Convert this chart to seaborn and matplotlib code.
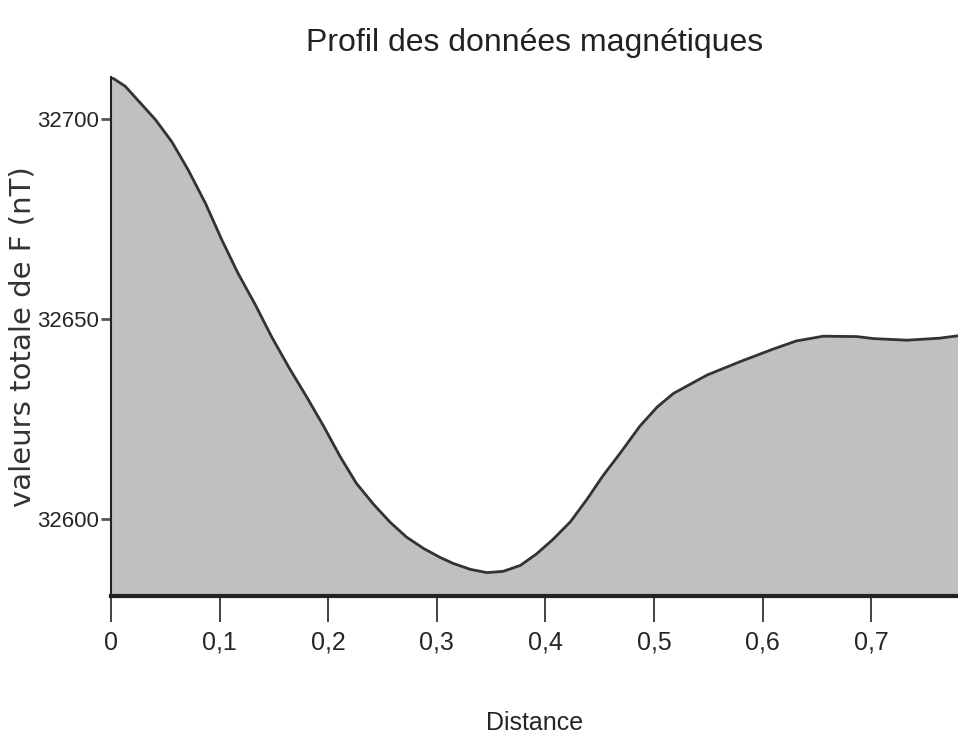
import pandas as pd
import seaborn as sns
import matplotlib
matplotlib.use("Agg")
import matplotlib.pyplot as plt

# Values
distance = [0.000, 0.013, 0.025, 0.041, 0.056, 0.071, 0.087, 0.102, 0.117, 0.133,
            0.148, 0.164, 0.180, 0.196, 0.211, 0.226, 0.242, 0.257, 0.272, 0.288,
            0.303, 0.315, 0.331, 0.346, 0.361, 0.377, 0.392, 0.407, 0.423, 0.438,
            0.453, 0.469, 0.487, 0.503, 0.518, 0.549, 0.579, 0.610, 0.631, 0.656,
            0.687, 0.702, 0.733, 0.763, 0.780]
field_total = [32710.5, 32708.2, 32704.6, 32699.8, 32694.3, 32687.3, 32678.9, 32669.8,
               32661.4, 32653.5, 32645.5, 32637.8, 32630.6, 32623.1, 32615.6, 32608.9,
               32603.6, 32599.2, 32595.5, 32592.6, 32590.4, 32588.9, 32587.4, 32586.6,
               32586.9, 32588.4, 32591.3, 32594.9, 32599.3, 32604.8, 32610.8, 32616.5,
               32623.2, 32628.0, 32631.4, 32636.0, 32639.3, 32642.5, 32644.5, 32645.7,
               32645.6, 32645.1, 32644.7, 32645.2, 32645.8]
x_ticks = [0, 0.1, 0.2, 0.3, 0.4, 0.5, 0.6, 0.7]
x_tick_labels = ["0", "0,1", "0,2", "0,3", "0,4", "0,5", "0,6", "0,7"]
y_ticks = [32600, 32650, 32700]

df = pd.DataFrame({"distance": distance, "F": field_total})

sns.set_theme(style="white")
plt.rcParams["font.family"] = ["Liberation Sans", "DejaVu Sans"]

fig = plt.figure(figsize=(9.58, 7.51), dpi=100)
ax = fig.add_axes([0.1159, 0.2064, 0.8841, 0.6911])

y_min = 32580.75
ax.fill_between(df["distance"], df["F"], y_min, color="#c0c0c0", linewidth=0)
sns.lineplot(data=df, x="distance", y="F", ax=ax, color="#333333", linewidth=2)

ax.set_xlim(0, 0.78)
ax.set_ylim(y_min, 32710.5)
ax.set_xticks(x_ticks)
ax.set_xticklabels(x_tick_labels, fontsize=18)
ax.set_yticks(y_ticks)
ax.set_yticklabels([str(v) for v in y_ticks], fontsize=16)

ax.tick_params(axis="x", direction="out", length=19, width=1.2, color="#222222",
               bottom=True, pad=6)
ax.tick_params(axis="y", direction="out", length=7, width=2, color="#555555",
               left=True, pad=2)

for side in ["top", "right"]:
    ax.spines[side].set_visible(False)
ax.spines["bottom"].set_linewidth(3)
ax.spines["bottom"].set_color("#222222")
ax.spines["left"].set_linewidth(1.5)
ax.spines["left"].set_color("#222222")

ax.set_xlabel("Distance", fontsize=18)
ax.xaxis.set_label_coords(0.5, -0.222)
ax.set_ylabel("valeurs totale de F (nT)", fontsize=21, family="DejaVu Sans",
              color="#333333")
ax.yaxis.set_label_coords(-0.088, 0.5)
fig.text(0.5585, 0.943, "Profil des données magnétiques", fontsize=23,
         ha="center", va="center", color="#222222")

fig.savefig("out.png", dpi=100)
